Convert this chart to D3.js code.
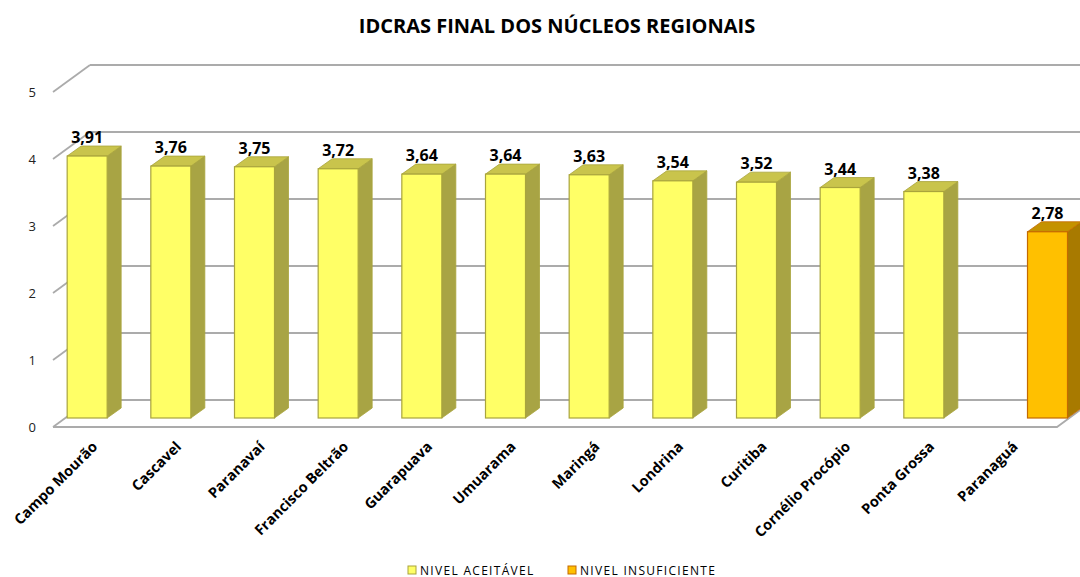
<!DOCTYPE html>
<html>
<head>
<meta charset="utf-8">
<script src="https://cdn.jsdelivr.net/npm/d3@7"></script>
<style>
  body { margin: 0; background: #fff; }
  svg { display: block; font-family: "Open Sans", sans-serif; }
</style>
</head>
<body>
<div id="chart"></div>
<script>
const categories = ['Campo Mourão', 'Cascavel', 'Paranavaí', 'Francisco Beltrão', 'Guarapuava', 'Umuarama',
  'Maringá', 'Londrina', 'Curitiba', 'Cornélio Procópio', 'Ponta Grossa', 'Paranaguá'];
const aceitavel = [3.91, 3.76, 3.75, 3.72, 3.64, 3.64, 3.63, 3.54, 3.52, 3.44, 3.38, null];
const insuficiente = [null, null, null, null, null, null, null, null, null, null, null, 2.78];
const yTicks = [0, 1, 2, 3, 4, 5];
const seriesNames = ['NIVEL ACEITÁVEL', 'NIVEL INSUFICIENTE'];

const width = 1080, height = 577;

const svg = d3.select('#chart').append('svg')
  .attr('width', width)
  .attr('height', height);

// front plane of the 3d box, back wall is shifted by depth
const depth = { dx: 37, dy: -27 };
const x = d3.scaleBand().domain(categories).range([53, 1057]).padding(0);
const y = d3.scaleLinear().domain([0, 5]).range([427, 92]);

// bars stand at 1/3 of the floor depth
const barShift = { dx: depth.dx / 3, dy: depth.dy / 3 };
const barDepth = { dx: 14, dy: -10 };
const barW = 40;

const styles = [
  { front: '#FFFF66', side: '#A8A444', top: '#C9C44C', stroke: '#A9A43C' },
  { front: '#FFC000', side: '#A87A00', top: '#C49200', stroke: '#C46A00' }
];

const grid = svg.append('g').attr('stroke', '#ababab').attr('stroke-width', 1.8).attr('fill', 'none');

// back wall gridlines
grid.selectAll('line.back')
  .data(yTicks)
  .enter()
  .append('line')
  .attr('x1', 53 + depth.dx)
  .attr('x2', width)
  .attr('y1', d => y(d) + depth.dy)
  .attr('y2', d => y(d) + depth.dy);

// left wall diagonals
grid.selectAll('line.side')
  .data(yTicks)
  .enter()
  .append('line')
  .attr('x1', 53)
  .attr('y1', d => y(d))
  .attr('x2', 53 + depth.dx)
  .attr('y2', d => y(d) + depth.dy);

// floor front edge
grid.append('path')
  .attr('d', `M53,${y(0)}L1057,${y(0)}L${1057 + depth.dx},${y(0) + depth.dy}`);

// title
svg.append('text')
  .attr('x', 557)
  .attr('y', 33)
  .attr('text-anchor', 'middle')
  .style('font-size', '20px')
  .style('font-weight', 'bold')
  .attr('fill', '#000')
  .text('IDCRAS FINAL DOS NÚCLEOS REGIONAIS');

// y axis labels
const yAxis = svg.append('g')
  .attr('transform', 'translate(53,0)')
  .call(d3.axisLeft(y).tickValues(yTicks).tickSize(0).tickPadding(17).tickFormat(d3.format('d')));
yAxis.select('.domain').remove();
yAxis.selectAll('text').style('font-size', '13px').style('font-family', '"Open Sans", sans-serif').attr('fill', '#222');

// x axis labels
const xAxis = svg.append('g')
  .attr('transform', `translate(0,${y(0) + 17})`)
  .call(d3.axisBottom(x).tickSize(0).tickPadding(0));
xAxis.select('.domain').remove();
xAxis.selectAll('text')
  .style('font-size', '14.5px')
  .style('font-weight', 'bold')
  .style('font-family', '"Open Sans", sans-serif')
  .attr('fill', '#000')
  .attr('text-anchor', 'end')
  .attr('dy', '0.35em')
  .attr('transform', 'rotate(-45)');

// bars
const bars = [];
categories.forEach((c, i) => {
  [aceitavel[i], insuficiente[i]].forEach((v, s) => {
    if (v == null) return;
    bars.push({ c, v, s });
  });
});

const barG = svg.append('g')
  .selectAll('g')
  .data(bars)
  .enter()
  .append('g');

const bx = d => x(d.c) + x.bandwidth() / 2 - barW + d.s * barW + barShift.dx;
const by0 = () => y(0) + barShift.dy;
const byTop = d => y(d.v) + barShift.dy;

barG.append('path')
  .attr('fill', d => styles[d.s].side)
  .attr('stroke', d => styles[d.s].stroke)
  .attr('stroke-width', 0.8)
  .attr('d', d => {
    const x1 = bx(d) + barW;
    return `M${x1},${byTop(d)}L${x1 + barDepth.dx},${byTop(d) + barDepth.dy}L${x1 + barDepth.dx},${by0() + barDepth.dy}L${x1},${by0()}Z`;
  });

barG.append('path')
  .attr('fill', d => styles[d.s].top)
  .attr('stroke', d => styles[d.s].stroke)
  .attr('stroke-width', 0.8)
  .attr('d', d => {
    const x0 = bx(d), t = byTop(d);
    return `M${x0},${t}L${x0 + barDepth.dx},${t + barDepth.dy}L${x0 + barW + barDepth.dx},${t + barDepth.dy}L${x0 + barW},${t}Z`;
  });

barG.append('rect')
  .attr('x', bx)
  .attr('y', byTop)
  .attr('width', barW)
  .attr('height', d => by0() - byTop(d))
  .attr('fill', d => styles[d.s].front)
  .attr('stroke', d => styles[d.s].stroke)
  .attr('stroke-width', 1.2);

barG.append('text')
  .attr('x', d => bx(d) + barW / 2)
  .attr('y', d => byTop(d) + barDepth.dy - 3)
  .attr('text-anchor', 'middle')
  .style('font-size', '16px')
  .style('font-weight', 'bold')
  .attr('fill', '#000')
  .text(d => d3.format('.2f')(d.v).replace('.', ','));

// legend
const legend = svg.append('g')
  .selectAll('g')
  .data(seriesNames)
  .enter()
  .append('g')
  .attr('transform', (d, i) => `translate(${[408, 568][i]},565)`);

legend.append('rect')
  .attr('width', 8)
  .attr('height', 8)
  .attr('y', 1)
  .attr('fill', (d, i) => styles[i].front)
  .attr('stroke', (d, i) => styles[i].stroke)
  .attr('stroke-width', 1);

legend.append('text')
  .attr('x', 12)
  .attr('y', 9.5)
  .style('font-size', '12px')
  .style('letter-spacing', '1.3px')
  .attr('fill', '#000')
  .text(d => d);
</script>
</body>
</html>
